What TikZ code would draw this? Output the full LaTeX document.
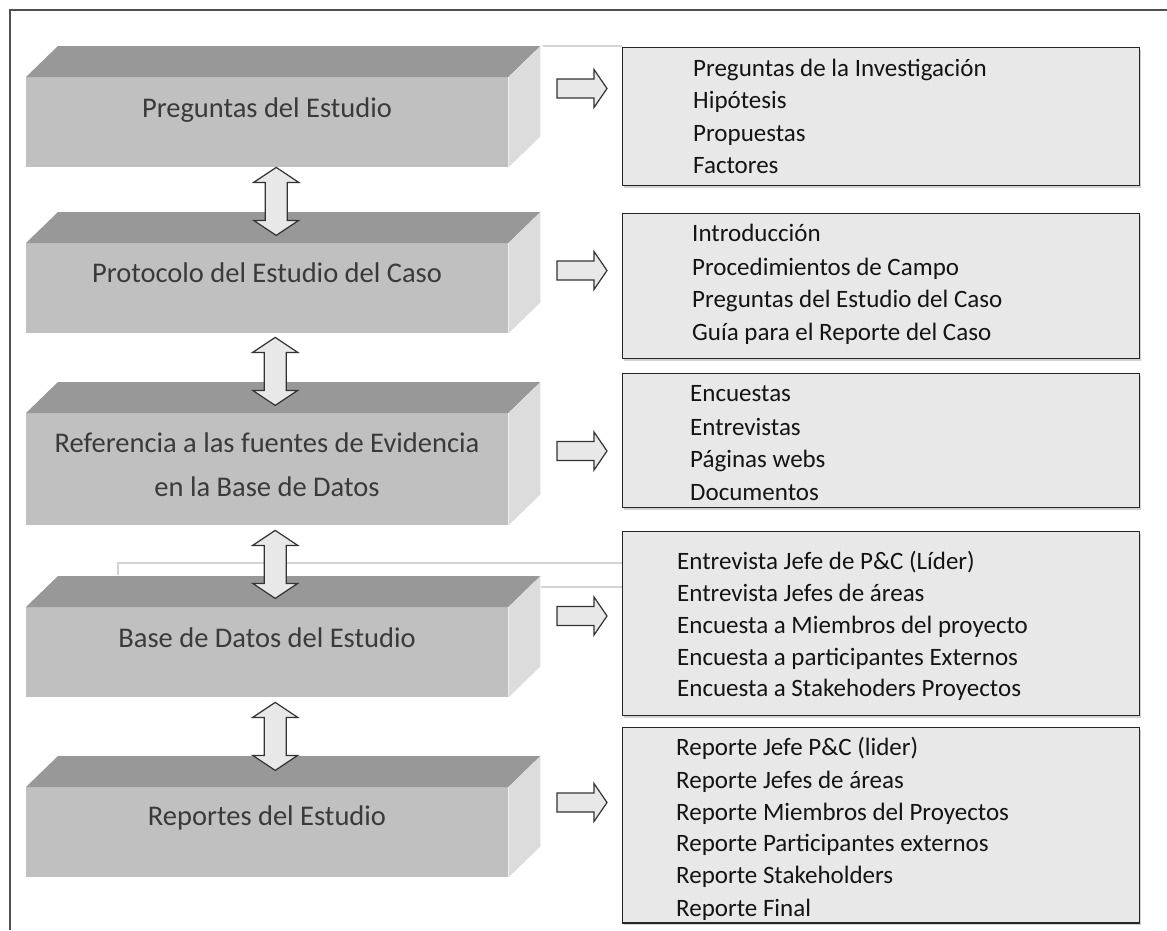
\documentclass[tikz,border=0pt]{standalone}
\usepackage{fontspec}
\setmainfont{Carlito}
\usetikzlibrary{calc,shadows}
\definecolor{frontc}{HTML}{C0C0C0}
\definecolor{topc}{HTML}{989898}
\definecolor{sidec}{HTML}{DCDCDC}
\definecolor{boxc}{HTML}{E8E8E8}
\definecolor{arrc}{HTML}{E8E8E8}
\definecolor{btextc}{HTML}{3A3A3A}
\definecolor{thinc}{HTML}{D4D4D4}
\definecolor{framec}{HTML}{505050}
\begin{document}
\begin{tikzpicture}[x=1pt,y=-1pt,
  frontface/.style={fill=frontc, draw=none, minimum width=482, minimum height=#1, inner sep=0, anchor=north west},
  rbox/.style={fill=boxc, draw=black!85, line width=1.3, minimum width=517, minimum height=#1, inner sep=0, anchor=north west,
     drop shadow={shadow xshift=1.5pt, shadow yshift=-2pt, fill=black!35, opacity=0.5}},
  btext/.style={font=\fontsize{28.5}{44}\selectfont, text=btextc, align=center, inner sep=0},
  rtext/.style={font=\fontsize{25}{30}\selectfont, text=black!92, anchor=base west, inner sep=0},
  arr/.style={fill=arrc, draw=black!80, line width=1.2, line join=miter},
  thin/.style={draw=thinc, line width=1.2},
  dblarrow/.pic={\draw[arr] (0,0) -- (22.5,15) -- (11,15) -- (11,53) -- (22.5,53) -- (0,68) -- (-22.5,53) -- (-11,53) -- (-11,15) -- (-22.5,15) -- cycle;},
  rarrow/.pic={\draw[arr] (0,-9.5) -- (37,-9.5) -- (37,-19) -- (50,0) -- (37,19) -- (37,9.5) -- (0,9.5) -- cycle;}
]
\useasboundingbox (0,0) rectangle (1167,930);
\fill[white] (0,0) rectangle (1167,930);

% outer frame
\coordinate (fA) at (10,930);
\coordinate (fB) at (10,10);
\coordinate (fC) at (1167,10);
\draw[framec, line width=1.5] (fA) -- (fB) -- (fC);

% right boxes
\node[rbox=138] (r1) at (622,47) {};
\node[rbox=145] (r2) at (622,213) {};
\node[rbox=134] (r3) at (622,373) {};
\node[rbox=184] (r4) at (622,531) {};
\node[rbox=195] (r5) at (622,727) {};

% thin light lines
\coordinate (k1) at (543,46);
\draw[thin] (k1) -- (r1.north west |- k1);
\coordinate (k2) at (118,575);
\coordinate (k3) at (118,563);
\draw[thin] (k2) -- (k3) -- (r4.west |- k3);
\coordinate (k4) at (541,587);
\draw[thin] (k4) -- (r4.west |- k4);

% left 3D blocks
\foreach \n/\y/\h in {b1/77/90, b2/243/90, b3/413/112, b4/607/90, b5/787/90}{
  \node[frontface=\h] (\n) at (26,\y) {};
  \fill[topc] (\n.north west) -- ++(32,-31) -- ($(\n.north east)+(32,-31)$) -- (\n.north east) -- cycle;
  \fill[sidec] (\n.north east) -- ++(32,-31) -- ($(\n.south east)+(32,-31)$) -- (\n.south east) -- cycle;
  \draw[white!93!black, line width=0.8] (\n.north east) -- (\n.south east);
}

% block texts
\node[btext] (t1) at (267,110) {Preguntas del Estudio};
\node[btext] (t2) at (267,273) {Protocolo del Estudio del Caso};
\node[btext] (t3) at (267,465) {Referencia a las fuentes de Evidencia\\en la Base de Datos};
\node[btext] (t4) at (267,638) {Base de Datos del Estudio};
\node[btext] (t5) at (267,818) {Reportes del Estudio};

% vertical double arrows
\pic at ($(b1.south)+(9,0)$) {dblarrow};
\pic at ($(b2.south)+(8,4)$) {dblarrow};
\pic at ($(b3.south)+(8,5)$) {dblarrow};
\pic at ($(b4.south)+(8,5)$) {dblarrow};

% right arrows
\coordinate (a1) at (557,88.5);
\coordinate (a2) at (557,270.5);
\coordinate (a3) at (557,451);
\coordinate (a4) at (557,616);
\coordinate (a5) at (557,802.5);
\foreach \a in {a1,a2,a3,a4,a5}{\pic at (\a) {rarrow};}

% box texts
\node[rtext] (r1l1) at (693,76) {Preguntas de la Investigación};
\node[rtext] (r1l2) at (693,108) {Hipótesis};
\node[rtext] (r1l3) at (693,141) {Propuestas};
\node[rtext] (r1l4) at (693,173) {Factores};

\node[rtext] (r2l1) at (692,241) {Introducción};
\node[rtext] (r2l2) at (692,275) {Procedimientos de Campo};
\node[rtext] (r2l3) at (692,307) {Preguntas del Estudio del Caso};
\node[rtext] (r2l4) at (692,340) {Guía para el Reporte del Caso};

\node[rtext] (r3l1) at (690,401) {Encuestas};
\node[rtext] (r3l2) at (690,435) {Entrevistas};
\node[rtext] (r3l3) at (690,467) {Páginas webs};
\node[rtext] (r3l4) at (690,500) {Documentos};

\node[rtext] (r4l1) at (677,569) {Entrevista Jefe de P\&C (Líder)};
\node[rtext] (r4l2) at (677,601) {Entrevista Jefes de áreas};
\node[rtext] (r4l3) at (677,633) {Encuesta a Miembros del proyecto};
\node[rtext] (r4l4) at (677,665) {Encuesta a participantes Externos};
\node[rtext] (r4l5) at (677,696) {Encuesta a Stakehoders Proyectos};

\node[rtext] (r5l1) at (676,755) {Reporte Jefe P\&C (lider)};
\node[rtext] (r5l2) at (676,788) {Reporte Jefes de áreas};
\node[rtext] (r5l3) at (676,820) {Reporte Miembros del Proyectos};
\node[rtext] (r5l4) at (676,851) {Reporte Participantes externos};
\node[rtext] (r5l5) at (676,883) {Reporte Stakeholders};
\node[rtext] (r5l6) at (676,916) {Reporte Final};
\draw[black!85, line width=1.3] (r5.south west) -- (r5.south east);
\end{tikzpicture}
\end{document}
